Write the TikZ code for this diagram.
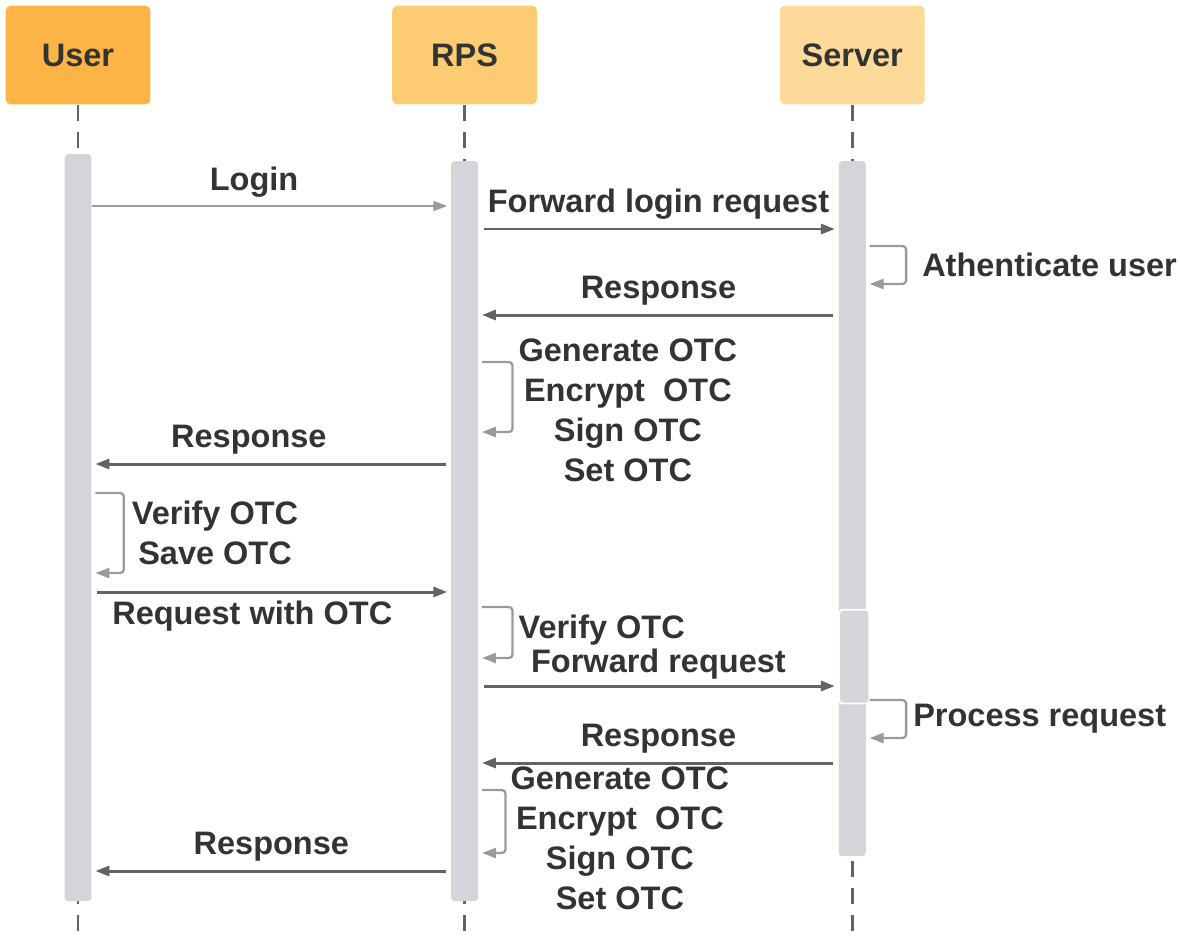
\documentclass[tikz,border=0pt]{standalone}
\usepackage{fontspec}
\setmainfont{Liberation Sans}
\usetikzlibrary{positioning,arrows.meta}
\definecolor{ink}{HTML}{333333}
\definecolor{userorange}{HTML}{FDB446}
\definecolor{rpsorange}{HTML}{FDCB71}
\definecolor{serverorange}{HTML}{FDD99A}
\definecolor{bargray}{HTML}{D3D5D8}
\definecolor{lightline}{HTML}{9A9A9A}
\definecolor{darkline}{HTML}{636363}

\begin{document}
\begin{tikzpicture}[x=0.02cm, y=-0.02cm,
    font=\fontsize{18.5}{22.7}\selectfont\bfseries, text=ink,
    head/.style={rectangle, rounded corners=3pt, minimum width=2.9cm, minimum height=1.98cm, inner sep=0pt},
    actbar/.style={rectangle, fill=bargray, rounded corners=2pt, minimum width=0.54cm, inner sep=0pt},
    lifeline/.style={darkline, line width=1.7pt, dash pattern=on 0.32cm off 0.22cm},
    msg/.style={-{Triangle[length=0.28cm, width=0.2cm]}, line width=1.7pt, darkline, shorten <=3pt, shorten >=2pt},
    light/.style={-{Triangle[length=0.28cm, width=0.2cm]}, line width=1.1pt, lightline, shorten <=0pt, shorten >=2pt},
    loopy/.style={-{Triangle[length=0.28cm, width=0.2cm]}, line width=1.3pt, lightline, rounded corners=2pt, shorten <=2pt, shorten >=2pt},
    msglbl/.style={inner sep=0pt, text depth=0pt, text=ink},
    steplbl/.style={inner sep=0pt, anchor=west, align=center, text=ink}]
  \useasboundingbox (0,0) rectangle (1180,937);
  \node[head, fill=userorange] (user) at (78,55) {User};
  \node[head, fill=rpsorange, right=4.82cm of user] (rps) {RPS};
  \node[head, fill=serverorange, right=4.84cm of rps] (server) {Server};
  \coordinate (bottom) at (0,937);
  \foreach \n/\y in {m1/206, m2/229, m3a/246, m3b/284, m4/315, m5a/362, m5b/432, m6/464,
      m7a/493, m7b/573, m8/592, m9a/607, m9b/658, m10/686, m11a/700, m11b/738,
      m12/763, m13a/790, m13b/853, m14/871}
    \coordinate (\n) at (0,\y);
  \draw[lifeline] (user.south) -- (user.south |- bottom);
  \draw[lifeline] (rps.south) -- (rps.south |- bottom);
  \draw[lifeline] (server.south) -- (server.south |- bottom);
  \node[actbar, below=0.98cm of user, minimum height=14.94cm] (ubar) {};
  \node[actbar, below=1.12cm of rps, minimum height=14.8cm] (rbar) {};
  \node[actbar, below=1.12cm of server, minimum height=13.9cm] (sbar) {};
  \node[actbar, draw=white, line width=1pt, below=10.08cm of server, xshift=0.04cm, minimum width=0.6cm, minimum height=1.88cm] (sbar2) {};

  \draw[light] (ubar.east |- m1) -- node[msglbl, above=8.5pt, pos=0.452] (t1) {Login} (rbar.west |- m1);
  \draw[msg] (rbar.east |- m2) -- node[msglbl, above=8.5pt] (t2) {Forward login request} (sbar.west |- m2);
  \draw[loopy] (sbar.east |- m3a) -- ++(40,0) |- node[steplbl, pos=0.25, xshift=0.3cm] (t3) {Athenticate user} (sbar.east |- m3b);
  \draw[msg] (sbar.west |- m4) -- node[msglbl, above=8.5pt] (t4) {Response} (rbar.east |- m4);
  \draw[loopy] (rbar.east |- m5a) -- ++(34,0) |- node[steplbl, pos=0.25, xshift=0.1cm, yshift=-0.26cm] (t5)
    {Generate OTC\\Encrypt\ \ OTC\\Sign OTC\\Set OTC} (rbar.east |- m5b);
  \draw[msg] (rbar.west |- m6) -- node[msglbl, above=8.5pt, pos=0.5625] (t6) {Response} (ubar.east |- m6);
  \draw[loopy] (ubar.east |- m7a) -- ++(32,0) |- node[steplbl, pos=0.25, xshift=0.14cm] (t7)
    {Verify OTC\\Save OTC} (ubar.east |- m7b);
  \draw[msg] (ubar.east |- m8) -- node[msglbl, below=4pt, pos=0.447] (t8) {Request with OTC} (rbar.west |- m8);
  \draw[loopy] (rbar.east |- m9a) -- ++(34,0) |- node[steplbl, pos=0.25, xshift=0.1cm, yshift=0.04cm] (t9) {Verify OTC} (rbar.east |- m9b);
  \draw[msg] (rbar.east |- m10) -- node[msglbl, above=7pt] (t10) {Forward request} (sbar.west |- m10);
  \draw[loopy] (sbar.east |- m11a) -- ++(40,0) |- node[steplbl, pos=0.25, xshift=0.12cm] (t11) {Process request} (sbar.east |- m11b);
  \draw[msg] (sbar.west |- m12) -- node[msglbl, above=8.5pt] (t12) {Response} (rbar.east |- m12);
  \draw[loopy] (rbar.east |- m13a) -- ++(27,0) |- node[steplbl, pos=0.25, xshift=0.08cm, yshift=-0.33cm] (t13)
    {Generate OTC\\Encrypt\ \ OTC\\Sign OTC\\Set OTC} (rbar.east |- m13b);
  \draw[msg] (rbar.west |- m14) -- node[msglbl, above=8.5pt] (t14) {Response} (ubar.east |- m14);
\end{tikzpicture}
\end{document}
